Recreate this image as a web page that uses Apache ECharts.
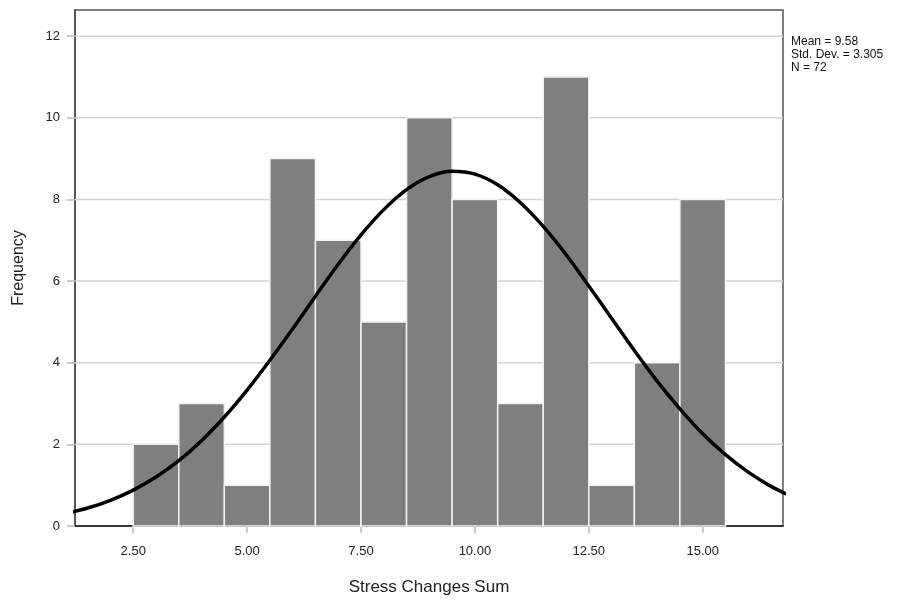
<!DOCTYPE html>
<html>
<head>
<meta charset="utf-8">
<script src="https://cdn.jsdelivr.net/npm/echarts@6/dist/echarts.min.js"></script>
<style>
  html, body { margin: 0; padding: 0; background: #fff; }
  #chart { width: 898px; height: 602px; }
</style>
</head>
<body>
<div id="chart"></div>
<script>
// histogram bins (lower edge, upper edge) and counts
var binStart = [2.5, 3.5, 4.5, 5.5, 6.5, 7.5, 8.5, 9.5, 10.5, 11.5, 12.5, 13.5, 14.5];
var binEnd = [3.5, 4.5, 5.5, 6.5, 7.5, 8.5, 9.5, 10.5, 11.5, 12.5, 13.5, 14.5, 15.5];
var counts = [2, 3, 1, 9, 7, 5, 10, 8, 3, 11, 1, 4, 8];

// normal curve
var curveX = [1, 1.5, 2, 2.5, 3, 3.5, 4, 4.5, 5, 5.5, 6, 6.5, 7, 7.5, 8, 8.5, 9, 9.5,
  10, 10.5, 11, 11.5, 12, 12.5, 13, 13.5, 14, 14.5, 15, 15.5, 16, 16.5, 17];
var curveY = [0.30, 0.44, 0.63, 0.88, 1.20, 1.60, 2.09, 2.67, 3.33, 4.06, 4.83, 5.63, 6.41, 7.13, 7.75, 8.24, 8.56, 8.69,
  8.62, 8.36, 7.92, 7.34, 6.65, 5.88, 5.09, 4.30, 3.55, 2.87, 2.26, 1.75, 1.32, 0.97, 0.70];

var xTicks = [2.5, 5, 7.5, 10, 12.5, 15];
var yTicks = [0, 2, 4, 6, 8, 10, 12];
var stats = ['Mean = 9.58', 'Std. Dev. = 3.305', 'N = 72'];

var chart = echarts.init(document.getElementById('chart'));

var histData = binStart.map(function (s, i) { return [s, binEnd[i], counts[i]]; });
var lineData = curveX.map(function (x, i) { return [x, curveY[i]]; });

var font = 'Liberation Sans, Arial, sans-serif';

var option = {
  animation: false,
  textStyle: { fontFamily: font },
  grid: {
    left: 75, top: 10, right: 115, bottom: 76,
    show: true, borderColor: '#555', borderWidth: 1.5, backgroundColor: '#fff'
  },
  xAxis: {
    type: 'value',
    min: 1.222, max: 16.763,
    name: 'Stress Changes Sum',
    nameLocation: 'middle',
    nameGap: 53,
    nameTextStyle: { fontSize: 17, color: '#222', fontFamily: font },
    axisLine: { show: true, onZero: false, lineStyle: { color: '#222', width: 1.5 } },
    axisTick: { show: true, length: 7, customValues: xTicks, lineStyle: { color: '#bbb', width: 1.5 } },
    axisLabel: {
      customValues: xTicks, margin: 19, fontSize: 13, color: '#222', fontFamily: font,
      formatter: function (v) { return v.toFixed(2); }
    },
    splitLine: { show: false }
  },
  yAxis: {
    type: 'value',
    min: 0, max: 12.64,
    name: 'Frequency',
    nameLocation: 'middle',
    nameGap: 48,
    nameRotate: 90,
    nameTextStyle: { fontSize: 16, color: '#222', fontFamily: font },
    axisLine: { show: true, lineStyle: { color: '#444', width: 1.5 } },
    axisTick: { show: true, length: 8, customValues: yTicks, lineStyle: { color: '#bbb', width: 1.5 } },
    axisLabel: { customValues: yTicks, margin: 15, fontSize: 13, color: '#222', fontFamily: font },
    splitLine: { show: false }
  },
  series: [
    {
      // horizontal grid lines at the y ticks
      type: 'custom',
      data: yTicks.slice(1),
      encode: { y: 0 },
      renderItem: function (params, api) {
        var y = api.coord([1.222, api.value(0)])[1];
        return {
          type: 'line',
          shape: { x1: params.coordSys.x, y1: y, x2: params.coordSys.x + params.coordSys.width, y2: y },
          style: { stroke: '#d3d3d3', lineWidth: 1.5 }
        };
      },
      silent: true,
      z: 1
    },
    {
      type: 'custom',
      data: histData,
      encode: { x: [0, 1], y: 2 },
      renderItem: function (params, api) {
        var p0 = api.coord([api.value(0), api.value(2)]);
        var p1 = api.coord([api.value(1), 0]);
        return {
          type: 'rect',
          shape: { x: p0[0], y: p0[1], width: p1[0] - p0[0], height: p1[1] - p0[1] },
          style: { fill: '#7f7f7f', stroke: '#f2f2f2', lineWidth: 1.5 }
        };
      },
      z: 2
    },
    {
      type: 'line',
      data: lineData,
      smooth: 0.35,
      showSymbol: false,
      symbol: 'none',
      clip: true,
      lineStyle: { color: '#000', width: 3.5 },
      z: 3
    }
  ],
  graphic: [{
    type: 'text',
    left: 791, top: 35,
    style: {
      text: stats.join('\n'),
      font: '12px ' + font,
      fill: '#111',
      lineHeight: 13
    }
  }]
};

chart.setOption(option);
</script>
</body>
</html>
